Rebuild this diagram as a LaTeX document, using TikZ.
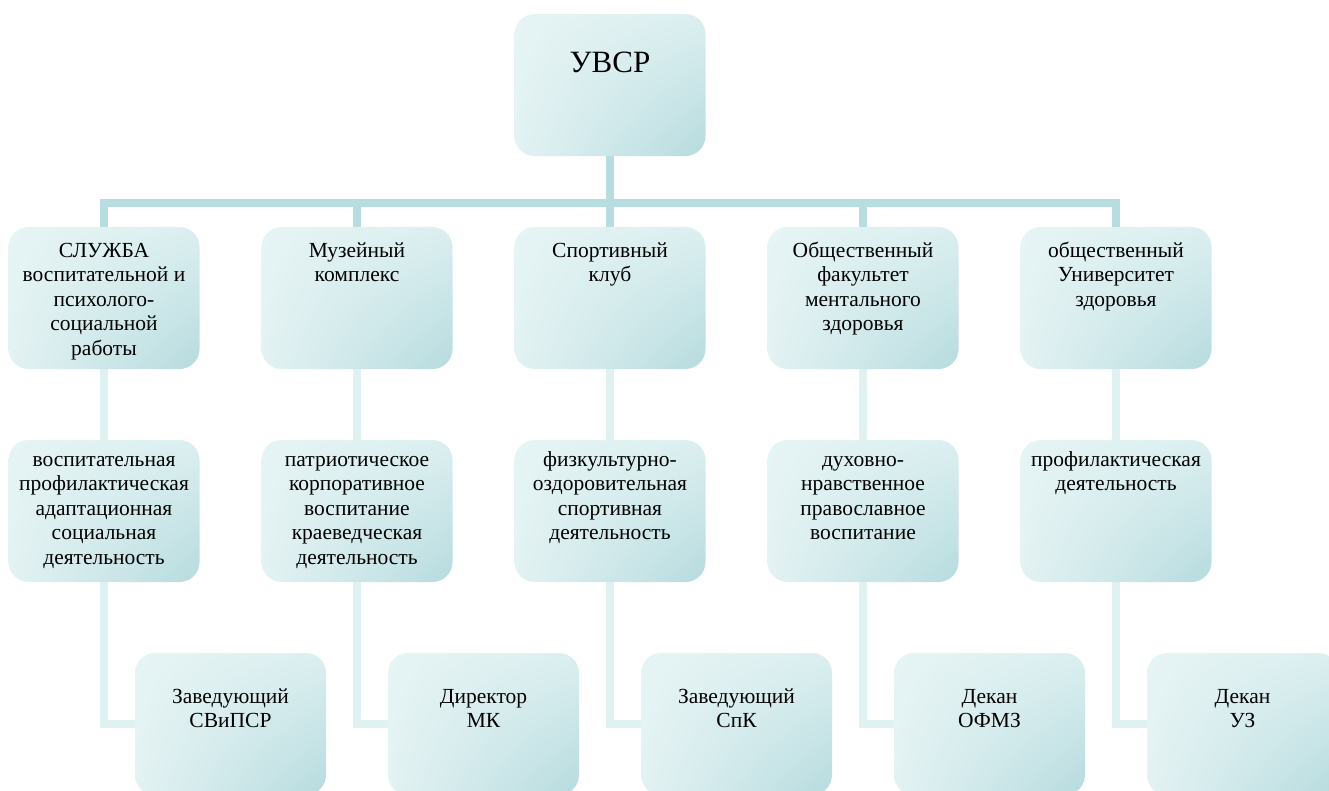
\documentclass[tikz,border=0pt]{standalone}
\usepackage{fontspec}
\setmainfont{Liberation Serif}
\usetikzlibrary{shadings,backgrounds}
\definecolor{sA}{HTML}{E6F4F4}
\definecolor{sB}{HTML}{DCEFF0}
\definecolor{sC}{HTML}{E3F2F3}
\definecolor{sD}{HTML}{B6DBDE}
\definecolor{conDark}{HTML}{B7DDE0}
\definecolor{conLight}{HTML}{E0F1F2}
\newcommand\bxt[2]{\parbox[c][142pt][t]{189pt}{\vspace*{#1}\centering\rmfamily\fontsize{21.5}{24.5}\selectfont\strut #2}}
\begin{document}
\begin{tikzpicture}[x=1pt,y=-1pt,
  box/.style={rounded corners=20pt, inner sep=0pt, outer sep=0pt,
    minimum width=191pt, minimum height=142pt,
    upper left=sA, upper right=sB, lower left=sC, lower right=sD},
  conD/.style={draw=conDark, line width=8pt, line join=miter},
  conL/.style={draw=conLight, line width=8pt, line join=miter}]
\useasboundingbox (0,0) rectangle (1329,790);
\clip (0,0) rectangle (1329,790);

% nodes
\node[box] (top) at (610,85) {\parbox[c][142pt][t]{189pt}{\vspace*{33pt}\centering\rmfamily\fontsize{31}{37}\selectfont\strut УВСР}};

\node[box] (a1) at (104,298) {\bxt{13pt}{СЛУЖБА\\ воспитательной и\\ психолого-\\ социальной\\ работы}};
\node[box] (a2) at (357,298) {\bxt{13pt}{Музейный\\ комплекс}};
\node[box] (a3) at (610,298) {\bxt{13pt}{Спортивный\\ клуб}};
\node[box] (a4) at (863,298) {\bxt{13pt}{Общественный\\ факультет\\ ментального\\ здоровья}};
\node[box] (a5) at (1116,298) {\bxt{13pt}{общественный\\ Университет\\ здоровья}};

\node[box] (b1) at (104,511) {\bxt{9pt}{воспитательная\\ профилактическая\\ адаптационная\\ социальная\\ деятельность}};
\node[box] (b2) at (357,511) {\bxt{9pt}{патриотическое\\ корпоративное\\ воспитание\\ краеведческая\\ деятельность}};
\node[box] (b3) at (610,511) {\bxt{9pt}{физкультурно-\\ оздоровительная\\ спортивная\\ деятельность}};
\node[box] (b4) at (863,511) {\bxt{9pt}{духовно-\\ нравственное\\ православное\\ воспитание}};
\node[box] (b5) at (1116,511) {\bxt{9pt}{профилактическая\\ деятельность}};

\node[box] (c1) at (230.5,724) {\bxt{33pt}{Заведующий\\ СВиПСР}};
\node[box] (c2) at (483.5,724) {\bxt{33pt}{Директор\\ МК}};
\node[box] (c3) at (736.5,724) {\bxt{33pt}{Заведующий\\ СпК}};
\node[box] (c4) at (989.5,724) {\bxt{33pt}{Декан\\ ОФМЗ}};
\node[box] (c5) at (1242.5,724) {\bxt{33pt}{Декан\\ УЗ}};

% connectors
\coordinate (bus) at (610,203);
\begin{scope}[on background layer]
\draw[conD] (a1.north) |- (bus) -| (a5.north);
\draw[conD] (top.south) -- (top.south |- bus);
\draw[conD] (a2.north) -- (a2.north |- bus);
\draw[conD] (a3.north) -- (a3.north |- bus);
\draw[conD] (a4.north) -- (a4.north |- bus);
\foreach \i in {1,...,5}{
  \draw[conL] (a\i.south) -- (b\i.north);
  \draw[conL] (b\i.south) |- (c\i.west);
}
\end{scope}
\end{tikzpicture}
\end{document}
